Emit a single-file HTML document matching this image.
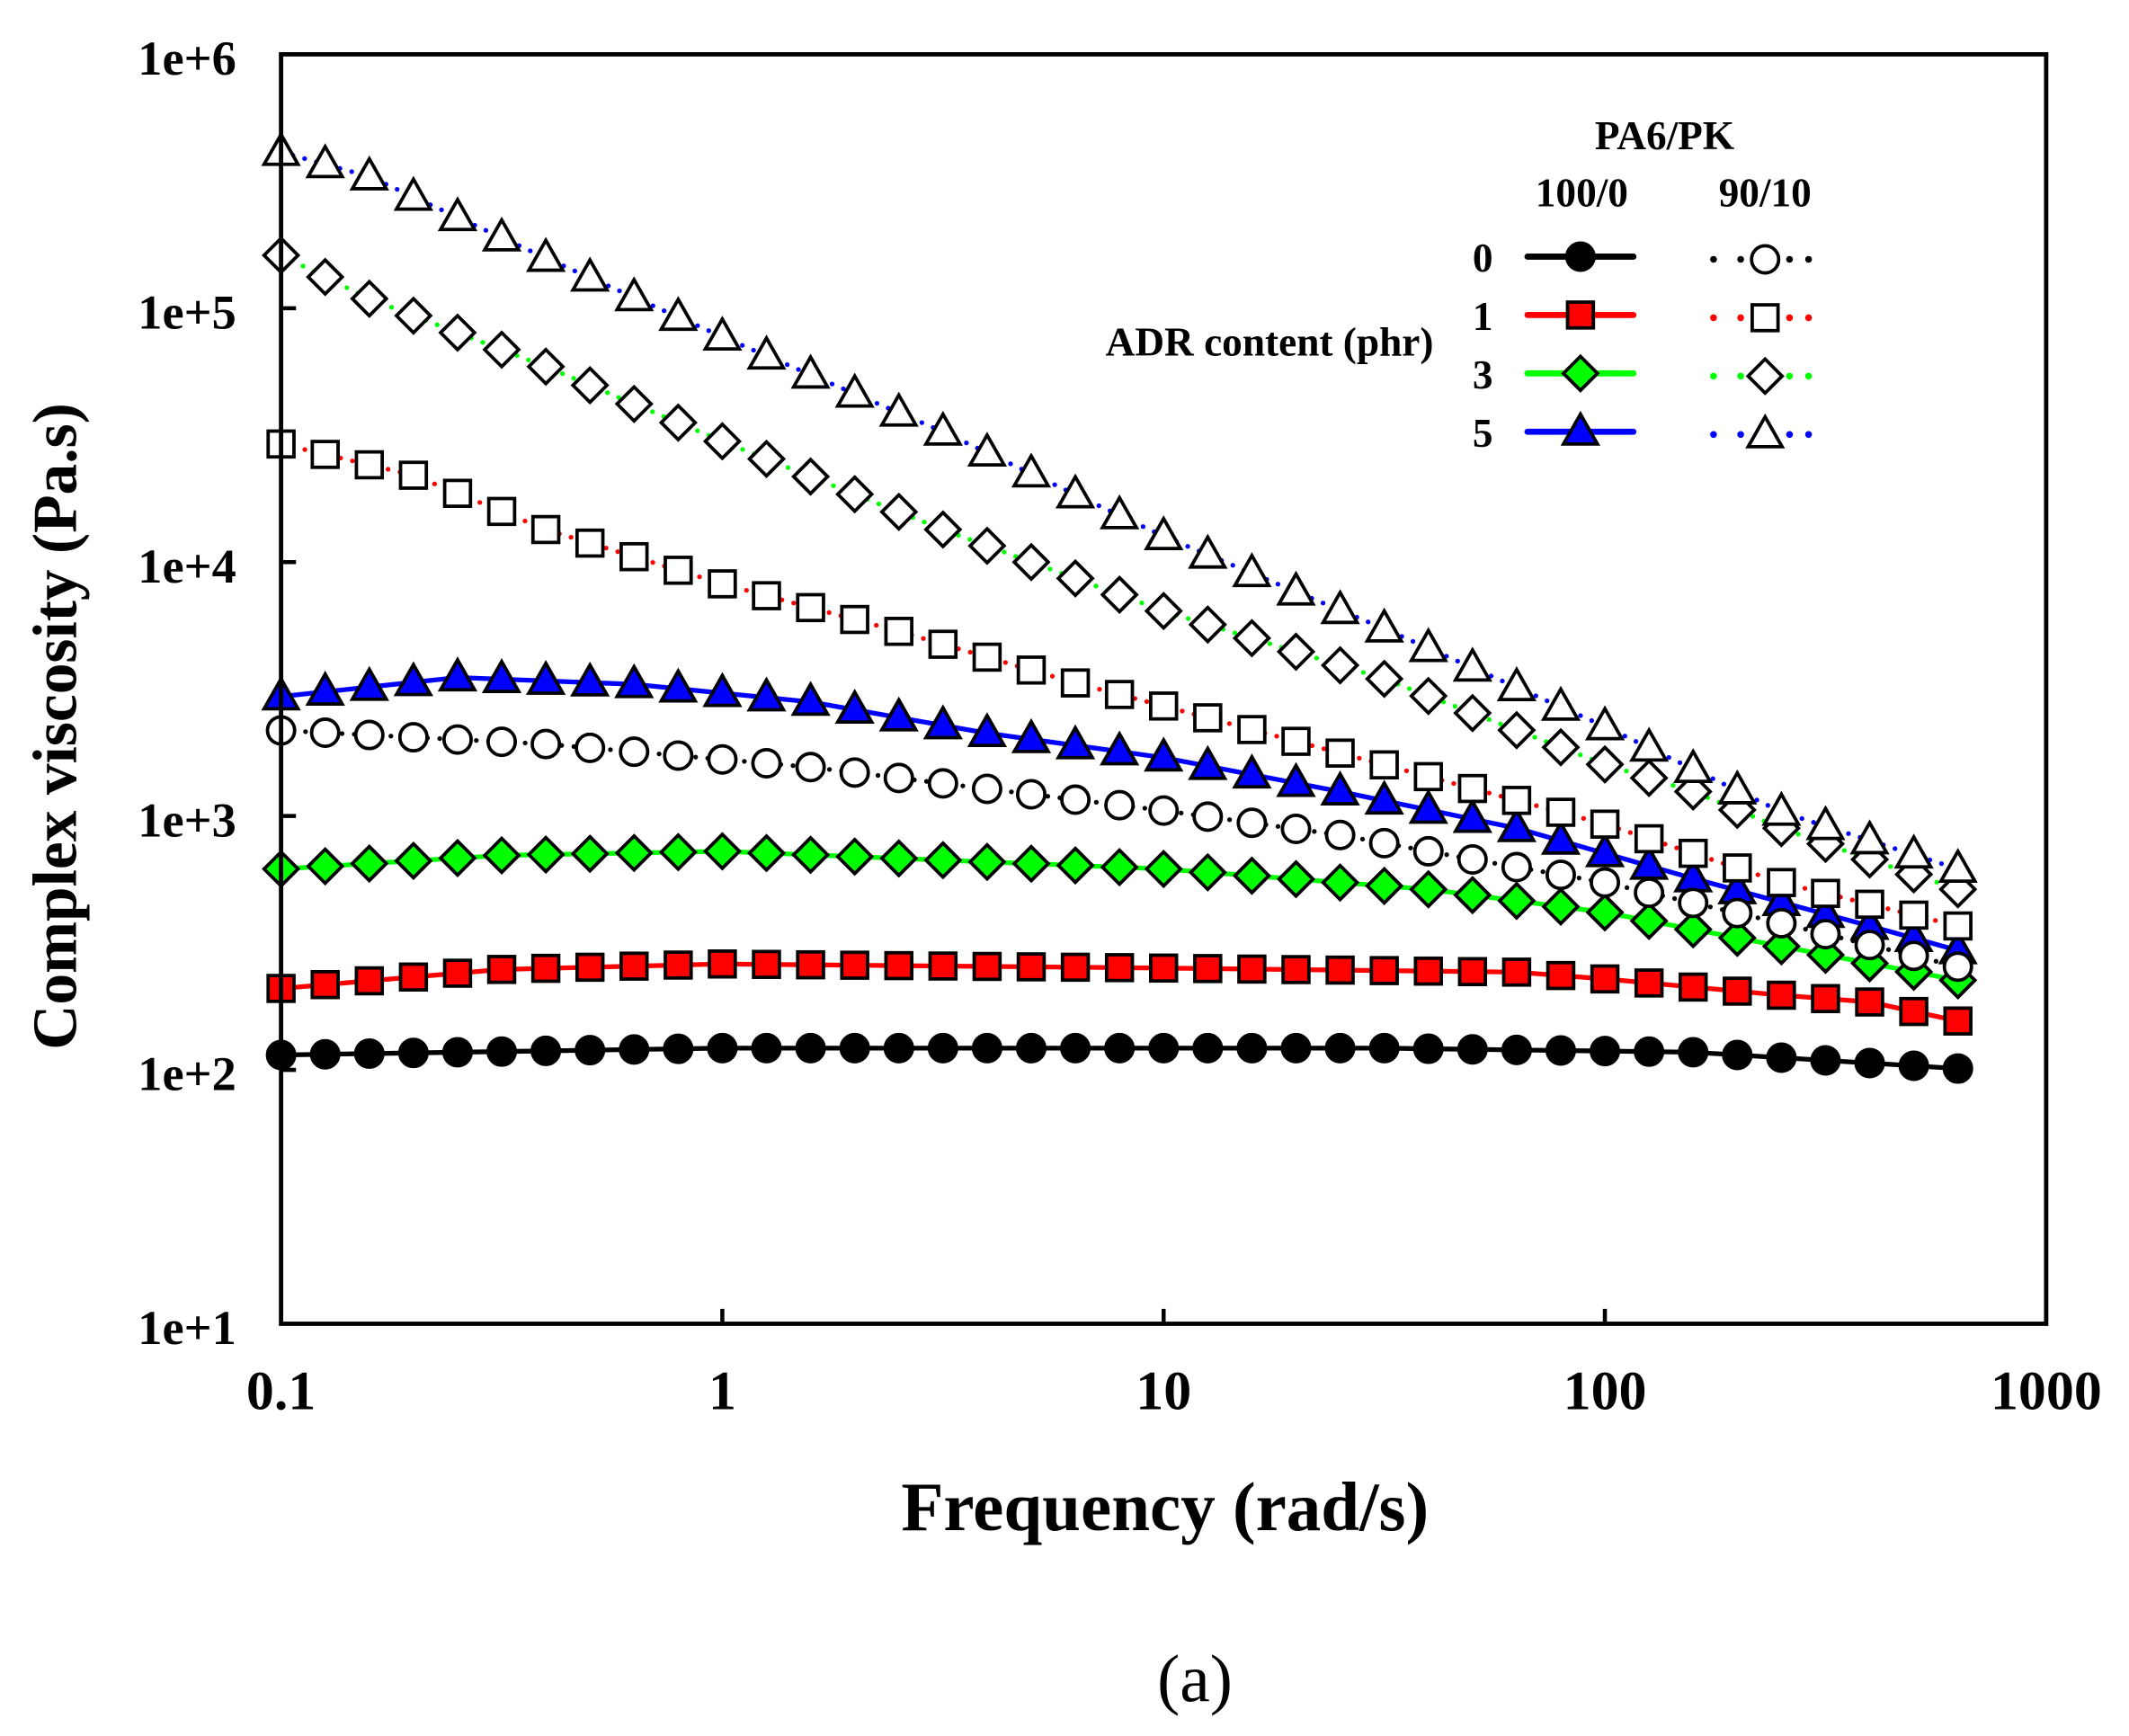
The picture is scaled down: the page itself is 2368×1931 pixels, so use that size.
<!DOCTYPE html>
<html><head><meta charset="utf-8"><style>html,body{margin:0;padding:0;background:#fff}svg{display:block}text{font-family:"Liberation Serif",serif;font-weight:bold;fill:#000}</style></head>
<body>
<svg id="s" width="2368" height="1931" viewBox="0 0 1568 1278.6" xmlns="http://www.w3.org/2000/svg">
<rect width="1568" height="1279" fill="#fff"/>
<g id="series"></g>
<rect x="207" y="40" width="1300" height="935" fill="none" stroke="#000" stroke-width="3.2"/>
<g stroke="#000" stroke-width="3">
<line x1="207" y1="227" x2="218" y2="227"/><line x1="207" y1="414" x2="218" y2="414"/><line x1="207" y1="601" x2="218" y2="601"/><line x1="207" y1="788" x2="218" y2="788"/>
<line x1="532" y1="975" x2="532" y2="964"/><line x1="857" y1="975" x2="857" y2="964"/><line x1="1182" y1="975" x2="1182" y2="964"/>
</g>
<g font-size="36" text-anchor="end">
<text x="174" y="55">1e+6</text><text x="174" y="242">1e+5</text><text x="174" y="429">1e+4</text><text x="174" y="616">1e+3</text><text x="174" y="803">1e+2</text><text x="174" y="990">1e+1</text>
</g>
<g font-size="41" text-anchor="middle">
<text x="207" y="1038">0.1</text><text x="532" y="1038">1</text><text x="857" y="1038">10</text><text x="1182" y="1038">100</text><text x="1507" y="1038">1000</text>
</g>
<text x="858" y="1127" font-size="51" text-anchor="middle">Frequency (rad/s)</text>
<text transform="translate(56,535) rotate(-90)" font-size="46" text-anchor="middle">Complex viscosity (Pa.s)</text>
<text x="880" y="1253" font-size="50" text-anchor="middle" style="font-weight:normal">(a)</text>
<g font-size="30">
<text x="1226" y="110" text-anchor="middle">PA6/PK</text>
<text x="1165" y="152" text-anchor="middle">100/0</text>
<text x="1300" y="152" text-anchor="middle">90/10</text>
<text x="935" y="262" text-anchor="middle">ADR content (phr)</text>
<text x="1092" y="200" text-anchor="middle">0</text><text x="1092" y="243" text-anchor="middle">1</text><text x="1092" y="286" text-anchor="middle">3</text><text x="1092" y="329" text-anchor="middle">5</text>
</g>
<g id="legend"></g>
</svg>
<script>
var NS="http://www.w3.org/2000/svg";
function el(p,t,a){var e=document.createElementNS(NS,t);for(var k in a)e.setAttribute(k,a[k]);p.appendChild(e);return e;}
function marker(g,type,x,y,fill){
 if(type=="c")el(g,"circle",{cx:x,cy:y,r:10,fill:fill,stroke:"#000","stroke-width":2.5});
 else if(type=="s")el(g,"rect",{x:x-9.5,y:y-9.5,width:19,height:19,fill:fill,stroke:"#000","stroke-width":2.5});
 else if(type=="d")el(g,"polygon",{points:(x)+","+(y-12.5)+" "+(x+12.5)+","+y+" "+x+","+(y+12.5)+" "+(x-12.5)+","+y,fill:fill,stroke:"#000","stroke-width":2.5});
 else el(g,"polygon",{points:x+","+(y-13)+" "+(x+12.5)+","+(y+9)+" "+(x-12.5)+","+(y+9),fill:fill,stroke:"#000","stroke-width":2.5});
}
function interp(k,i){for(var j=0;j<k.length-1;j++){if(i>=k[j][0]&&i<=k[j+1][0]){var t=(i-k[j][0])/(k[j+1][0]-k[j][0]);return k[j][1]+t*(k[j+1][1]-k[j][1]);}}return k[k.length-1][1];}
var S=[
 {k:[[0,777],[10,772],[25,772],[32,775],[38,787]],c:"#000",m:"c",f:"#000",solid:1},
 {k:[[0,728],[5,714],[10,710],[20,713],[28,716],[30,721],[34,733],[36,738],[38,752]],c:"#f00",m:"s",f:"#f00",solid:1},
 {k:[[0,640],[5,630],[10,627],[20,640],[26,655],[30,672],[34,697],[38,722]],c:"#0f0",m:"d",f:"#0f0",solid:1},
 {k:[[0,513],[4,499],[8,504],[12,517],[16,540],[20,558],[24,583],[28,610],[32,647],[36,682],[38,700]],c:"#00f",m:"t",f:"#00f",solid:1},
 {k:[[0,538],[6,548],[12,565],[20,597],[24,615],[27,633],[30,650],[34,680],[38,712]],c:"#000",m:"c",f:"#fff"},
 {k:[[0,327],[3,350],[6,390],[10,430],[14,465],[18,503],[20,520],[26,572],[30,607],[34,650],[38,682]],c:"#f00",m:"s",f:"#fff"},
 {k:[[0,188],[2,220],[6,270],[10,325],[15,390],[20,450],[25,500],[30,563],[32,583],[34,610],[36,633],[38,655]],c:"#0f0",m:"d",f:"#fff"},
 {k:[[0,112],[2,130],[6,190],[10,248],[15,318],[20,395],[25,463],[30,535],[34,598],[38,640]],c:"#00f",m:"t",f:"#fff"}
];
var G=document.getElementById("series");
S.forEach(function(s){
 var pts=[];for(var i=0;i<=38;i++)pts.push([207+32.5*i,interp(s.k,i)]);
 var d=pts.map(function(p){return p.join(",")}).join(" ");
 if(s.solid)el(G,"polyline",{points:d,fill:"none",stroke:s.c,"stroke-width":3.5});
 else el(G,"polyline",{points:d,fill:"none",stroke:s.c,"stroke-width":3.5,"stroke-dasharray":"0 9","stroke-linecap":"round"});
 pts.forEach(function(p){marker(G,s.m,p[0],p[1],s.f)});
});
var L=document.getElementById("legend");
var ly=[189,232,275,318],cols=["#000","#f00","#0f0","#00f"],ms=["c","s","d","t"];
for(var r=0;r<4;r++){
 el(L,"line",{x1:1125,y1:ly[r],x2:1203,y2:ly[r],stroke:cols[r],"stroke-width":4.5,"stroke-linecap":"round"});
 marker(L,ms[r],1164,ly[r],cols[r]);
 [1262,1282,1318,1332].forEach(function(x){el(L,"circle",{cx:x,cy:ly[r]+2,r:2.5,fill:cols[r]});});
 marker(L,ms[r],1300,ly[r]+2,"#fff");
}
</script>
</body></html>
